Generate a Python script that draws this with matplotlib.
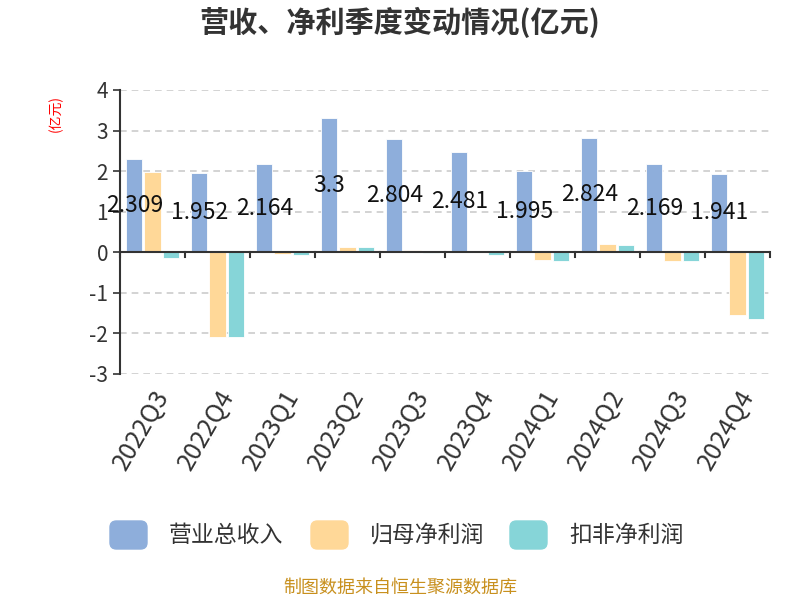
import matplotlib
matplotlib.use('Agg')
import matplotlib.pyplot as plt
from matplotlib.patches import FancyBboxPatch
import numpy as np

plt.rcParams['font.family'] = ['Noto Sans CJK SC', 'DejaVu Sans']
plt.rcParams['axes.unicode_minus'] = False

quarters = ['2022Q3', '2022Q4', '2023Q1', '2023Q2', '2023Q3',
            '2023Q4', '2024Q1', '2024Q2', '2024Q3', '2024Q4']
revenue = [2.309, 1.952, 2.164, 3.3, 2.804, 2.481, 1.995, 2.824, 2.169, 1.941]
net_profit = [1.98, -2.10, -0.04, 0.14, 0.06, 0.01, -0.18, 0.21, -0.21, -1.54]
deducted_profit = [-0.15, -2.10, -0.07, 0.14, -0.01, -0.07, -0.22, 0.17, -0.22, -1.65]
series_names = ['营业总收入', '归母净利润', '扣非净利润']
colors = ['#8eaedb', '#ffd898', '#86d5d8']

fig = plt.figure(figsize=(8, 6), dpi=100)
ax = fig.add_axes([0.15, 0.3767, 0.8125, 0.4733])

x = np.arange(len(quarters))
w = 0.25
for i, vals in enumerate([revenue, net_profit, deducted_profit]):
    ax.bar(x + (i - 1) * (w + 0.03), vals, w, color=colors[i],
           edgecolor='white', linewidth=0.6, label=series_names[i], zorder=3)

for xi, v in zip(x, revenue):
    ax.text(xi - (w + 0.03), v / 2, '{:g}'.format(v), ha='center', va='center',
            fontsize=16.5, color='#111111', zorder=5)

ax.set_xlim(-0.5, len(quarters) - 0.5)
ax.set_ylim(-3, 4)
ax.set_yticks(range(-3, 5))
ax.yaxis.grid(True, linestyle=(0, (4, 3)), color='#cccccc', linewidth=1.2, zorder=0)
ax.axhline(0, color='#333333', linewidth=1.5, zorder=4)

for s in ['top', 'right', 'bottom']:
    ax.spines[s].set_visible(False)
ax.spines['left'].set_color('#333333')
ax.spines['left'].set_linewidth(1.5)
ax.tick_params(axis='y', colors='#333333', labelsize=15, length=5, width=1.2)

ax.set_xticks(x)
ax.set_xticklabels(quarters, rotation=60, ha='right', rotation_mode='anchor',
                   fontsize=18, color='#333333')
ax.tick_params(axis='x', length=0, pad=8)
for b in np.arange(-0.5, len(quarters), 1.0):
    ax.plot([b, b], [0, -0.12], color='#333333', linewidth=1.5, zorder=4,
            clip_on=False)

fig.text(0.07, 0.81, '(亿元)', rotation=90, color='red', fontsize=10,
         ha='center', va='center')
fig.text(0.5, 0.962, '营收、净利季度变动情况(亿元)', ha='center', va='center',
         fontsize=21, fontweight='bold', color='#333333')

# legend drawn by hand so the swatches get rounded corners
leg_x = [110, 311, 510]
for lx, c, name in zip(leg_x, colors, series_names):
    fig.patches.append(FancyBboxPatch((lx / 800, (600 - 549) / 600), 37 / 800, 28 / 600,
                                      boxstyle='round,pad=0,rounding_size=0.008',
                                      transform=fig.transFigure, color=c,
                                      mutation_aspect=800 / 600))
    fig.text((lx + 59) / 800, (600 - 535) / 600, name, ha='left', va='center',
             fontsize=16.5, color='#333333')

fig.text(0.5, 0.02, '制图数据来自恒生聚源数据库', ha='center', va='center',
         fontsize=13, color='#c8901e')

fig.savefig('out.png', dpi=100)
